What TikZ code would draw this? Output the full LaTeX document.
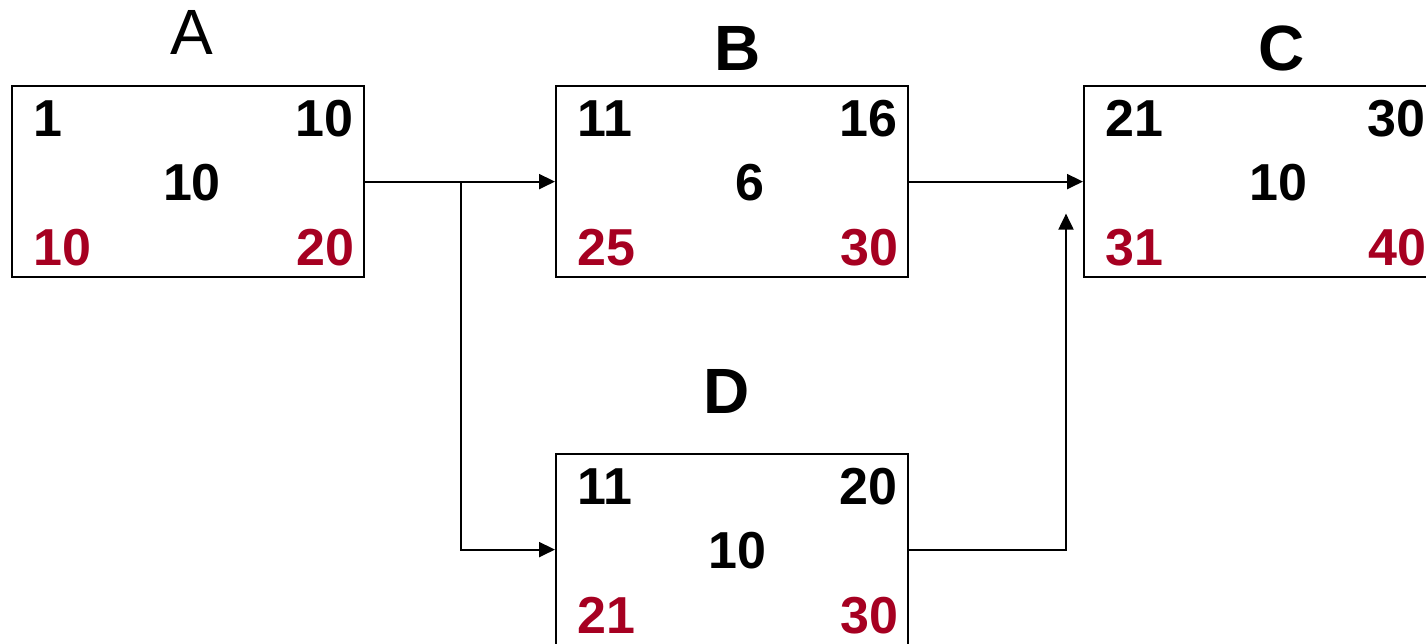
\documentclass[tikz,border=0pt]{standalone}
\usepackage{fontspec}
\setmainfont{Liberation Sans}
\usetikzlibrary{arrows.meta,positioning}
\definecolor{cred}{RGB}{166,0,33}
\tikzset{
  taskbox/.style={draw,line width=2.2pt,minimum width=352pt,minimum height=191pt,inner sep=0pt,anchor=north west},
  num/.style={font=\fontsize{52}{60}\selectfont\bfseries,inner sep=0pt},
  late/.style={num,text=cred},
  ttl/.style={font=\fontsize{64}{72}\selectfont\bfseries,inner sep=0pt,anchor=base},
  link/.style={line width=2pt,-{Triangle[length=16pt,width=15pt]}},
}

\begin{document}
\begin{tikzpicture}[x=1pt,y=-1pt]
  \useasboundingbox (0,0) rectangle (1426,643);
  % boxes: name / corner / early start, early finish / duration / late start, late finish
  \foreach \t/\x/\y/\es/\ef/\du/\ls/\lf/\dx in {A/11/85/1/10/10/10/20/181,
      B/555/85/11/16/6/25/30/195, C/1083/85/21/30/10/31/40/195, D/555/453/11/20/10/21/30/182} {
    \node[taskbox] (\t) at (\x,\y) {};
    \node[num,anchor=base west] (\t-es) at ([shift={(22,51)}]\t.north west) {\es};
    \node[num,anchor=base east] (\t-ef) at ([shift={(-12,51)}]\t.north east) {\ef};
    \node[num,anchor=base] (\t-du) at ([shift={(\dx,115)}]\t.north west) {\du};
    \node[late,anchor=base west] (\t-ls) at ([shift={(22,180)}]\t.north west) {\ls};
    \node[late,anchor=base east] (\t-lf) at ([shift={(-11,180)}]\t.north east) {\lf};
  }
  \node[ttl] (tA) at (192,54) {\mdseries A};
  \node[ttl] (tB) at (738,70) {B};
  \node[ttl] (tC) at (1282,70) {C};
  \node[ttl] (tD) at (727,413) {D};
  % connectors
  \coordinate (split) at ([shift={(96,0)}]A.east);
  \coordinate (join) at ([shift={(-17,32)}]C.west);
  \draw[link] (A.east) -- (B.west);
  \draw[link] (split) |- (D.west);
  \draw[link] (B.east) -- (C.west);
  \draw[link] (D.east) -| (join);
\end{tikzpicture}
\end{document}
